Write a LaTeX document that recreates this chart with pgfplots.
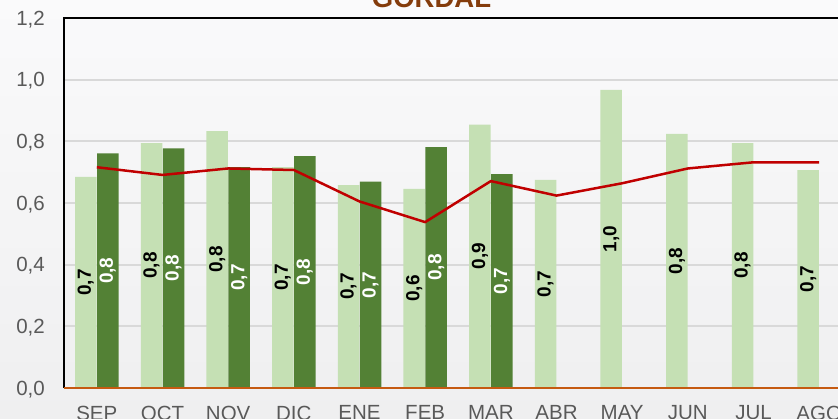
\documentclass[border=0pt]{standalone}
\usepackage{pgfplots}
\pgfplotsset{compat=1.18}
\usepackage{graphicx}
\usepackage{fontspec}
\setmainfont{Liberation Sans}
\definecolor{lightg}{HTML}{C5E0B4}
\definecolor{darkg}{HTML}{538135}
\definecolor{redc}{HTML}{C00000}
\definecolor{titlec}{HTML}{843C0C}
\definecolor{tickc}{HTML}{595959}
\definecolor{gridc}{HTML}{D9D9D9}
\definecolor{basec}{HTML}{C55A11}
\definecolor{bgtop}{HTML}{FAFAFB}
\definecolor{bgbot}{HTML}{EFEFF0}
\begin{document}
\begin{tikzpicture}
\useasboundingbox (0pt,0pt) rectangle (838pt,419pt);
\clip (0pt,0pt) rectangle (838pt,419pt);
\shade[top color=bgtop, bottom color=bgbot] (0pt,0pt) rectangle (838pt,419pt);
\begin{axis}[
  at={(64pt,31pt)}, anchor=south west,
  scale only axis, width=788pt, height=370pt,
  xmin=-0.5, xmax=11.5, ymin=0, ymax=1.2,
  xtick={0,...,11},
  xticklabels={SEP,OCT,NOV,DIC,ENE,FEB,MAR,ABR,MAY,JUN,JUL,AGO},
  ytick={0,0.2,0.4,0.6,0.8,1.0,1.2},
  major tick length=0pt,
  ymajorgrids, grid style={gridc, line width=1.8pt},
  axis line style={draw=none},
  tick label style={font=\fontsize{20.5}{24}\selectfont, text=tickc},
  xticklabel style={anchor=north, inner sep=0pt, yshift=-17.5pt},
  yticklabel style={anchor=base east, inner sep=0pt, xshift=-19pt, yshift=-7.3pt},
  /pgf/number format/assume math mode=true,
  /pgf/number format/fixed, /pgf/number format/fixed zerofill,
  /pgf/number format/precision=1, /pgf/number format/use comma,
  scaled y ticks=false,
  clip=false,
  visualization depends on={rawy \as \rawy},
  after end axis/.code={
    \draw[black, line width=2pt] (rel axis cs:0,0) -- (rel axis cs:0,1) -- (rel axis cs:1,1);
    \draw[basec, line width=1.3pt] (rel axis cs:0,0) -- (rel axis cs:1,0);
  },
]
\addplot[ybar, bar width=21.5pt, bar shift=-11pt, fill=lightg, draw=none,
  nodes near coords={\rotatebox{90}{\pgfmathprintnumber{\pgfplotspointmeta}}},
  nodes near coords align={anchor=center},
  every node near coord/.append style={shift={(axis direction cs:0,-\rawy/2)}, xshift=-11pt,
    font=\fontsize{19}{22}\selectfont\bfseries, text=black, inner sep=0pt}]
 coordinates {(0,0.685) (1,0.794) (2,0.833) (3,0.716) (4,0.658) (5,0.646)
              (6,0.854) (7,0.675) (8,0.967) (9,0.824) (10,0.794) (11,0.707)};
\addplot[ybar, bar width=21.5pt, bar shift=11pt, fill=darkg, draw=none,
  nodes near coords={\rotatebox{90}{\pgfmathprintnumber{\pgfplotspointmeta}}},
  nodes near coords align={anchor=center},
  every node near coord/.append style={shift={(axis direction cs:0,-\rawy/2)}, xshift=11pt,
    font=\fontsize{19}{22}\selectfont\bfseries, text=white, inner sep=0pt}]
 coordinates {(0,0.761) (1,0.777) (2,0.716) (3,0.752) (4,0.669) (5,0.781) (6,0.694)};
\addplot[redc, line width=2.5pt, mark=none]
 coordinates {(0,0.716) (1,0.691) (2,0.712) (3,0.707) (4,0.605) (5,0.538)
              (6,0.671) (7,0.624) (8,0.664) (9,0.712) (10,0.732) (11,0.732)};
\end{axis}
\node[anchor=base, font=\fontsize{27.5}{30}\selectfont\bfseries, text=titlec] at (431.5pt,411pt) {GORDAL};
\end{tikzpicture}
\end{document}
